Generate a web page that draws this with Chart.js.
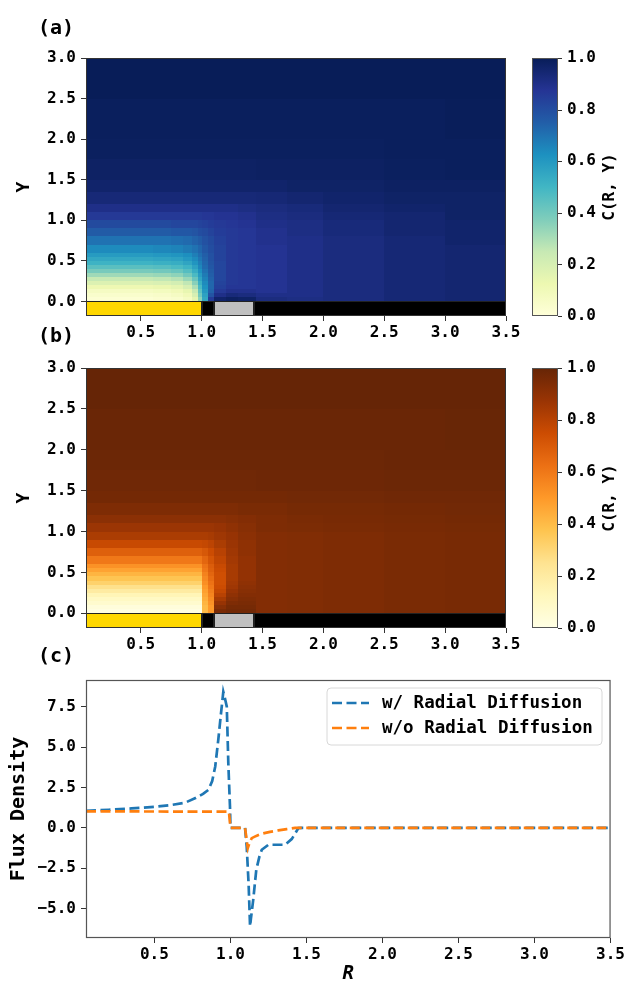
<!DOCTYPE html>
<html>
<head>
<meta charset="utf-8">
<script src="https://cdn.jsdelivr.net/npm/chart.js@4.4.0/dist/chart.umd.min.js"></script>
<style>
  html, body { margin: 0; padding: 0; background: #fff; }
  #wrap { position: relative; width: 627px; height: 984px; }
  #wrap canvas { position: absolute; left: 0; }
</style>
</head>
<body>
<div id="wrap">
  <canvas id="chartA" width="627" height="345" style="top:0px"></canvas>
  <canvas id="chartB" width="627" height="345" style="top:320px"></canvas>
  <canvas id="chartC" width="627" height="344" style="top:640px"></canvas>
</div>
<script>
// grid edges of the concentration maps (R columns, Y rows)
var rEdges = [0.05, 0.35, 0.6, 0.75, 0.85, 0.92, 0.97, 1.0, 1.05, 1.1, 1.2, 1.3, 1.45, 1.7, 2.0, 2.5, 3.0, 3.5];
var yEdges = [0, 0.05, 0.1, 0.15, 0.2, 0.25, 0.3, 0.35, 0.4, 0.45, 0.5, 0.55, 0.6, 0.7, 0.8, 0.9, 1.0, 1.1, 1.2, 1.35, 1.5, 1.75, 2.0, 2.5, 3.0];

// C(R, Y) for panel (a), one row per Y band, bottom row first
var concA = [
  [0.02, 0.02, 0.03, 0.04, 0.07, 0.15, 0.35, 0.55, 0.85, 0.96, 0.98, 0.97, 0.92, 0.91, 0.92, 0.94, 0.95],
  [0.04, 0.04, 0.05, 0.07, 0.10, 0.20, 0.40, 0.57, 0.78, 0.90, 0.93, 0.92, 0.90, 0.90, 0.92, 0.94, 0.95],
  [0.07, 0.07, 0.08, 0.10, 0.14, 0.25, 0.44, 0.60, 0.74, 0.86, 0.89, 0.89, 0.88, 0.90, 0.92, 0.94, 0.95],
  [0.12, 0.12, 0.13, 0.15, 0.20, 0.30, 0.48, 0.62, 0.73, 0.84, 0.87, 0.87, 0.88, 0.90, 0.92, 0.94, 0.95],
  [0.18, 0.18, 0.19, 0.21, 0.26, 0.36, 0.52, 0.64, 0.73, 0.83, 0.86, 0.87, 0.88, 0.90, 0.92, 0.94, 0.95],
  [0.25, 0.25, 0.26, 0.28, 0.33, 0.42, 0.56, 0.66, 0.74, 0.82, 0.86, 0.87, 0.88, 0.90, 0.92, 0.94, 0.95],
  [0.32, 0.32, 0.33, 0.35, 0.40, 0.48, 0.59, 0.68, 0.75, 0.82, 0.86, 0.87, 0.88, 0.90, 0.92, 0.94, 0.95],
  [0.39, 0.39, 0.40, 0.42, 0.46, 0.53, 0.62, 0.70, 0.76, 0.82, 0.86, 0.87, 0.88, 0.90, 0.92, 0.94, 0.95],
  [0.45, 0.45, 0.46, 0.48, 0.51, 0.57, 0.65, 0.72, 0.77, 0.82, 0.86, 0.87, 0.88, 0.90, 0.92, 0.94, 0.95],
  [0.51, 0.51, 0.52, 0.53, 0.56, 0.61, 0.67, 0.73, 0.78, 0.82, 0.86, 0.87, 0.88, 0.90, 0.92, 0.94, 0.95],
  [0.55, 0.55, 0.56, 0.57, 0.60, 0.64, 0.69, 0.74, 0.79, 0.83, 0.86, 0.87, 0.88, 0.90, 0.92, 0.94, 0.95],
  [0.59, 0.59, 0.60, 0.61, 0.63, 0.67, 0.71, 0.75, 0.79, 0.83, 0.86, 0.87, 0.88, 0.90, 0.92, 0.94, 0.95],
  [0.64, 0.64, 0.65, 0.66, 0.68, 0.70, 0.73, 0.77, 0.80, 0.83, 0.86, 0.87, 0.88, 0.90, 0.92, 0.94, 0.95],
  [0.70, 0.70, 0.70, 0.71, 0.72, 0.74, 0.76, 0.79, 0.81, 0.84, 0.86, 0.87, 0.89, 0.90, 0.92, 0.94, 0.96],
  [0.76, 0.76, 0.76, 0.77, 0.77, 0.78, 0.80, 0.81, 0.83, 0.85, 0.86, 0.87, 0.89, 0.91, 0.93, 0.95, 0.96],
  [0.81, 0.81, 0.81, 0.82, 0.82, 0.82, 0.83, 0.84, 0.85, 0.86, 0.87, 0.88, 0.90, 0.91, 0.93, 0.95, 0.96],
  [0.86, 0.86, 0.86, 0.86, 0.86, 0.86, 0.86, 0.87, 0.87, 0.88, 0.88, 0.89, 0.91, 0.92, 0.94, 0.95, 0.97],
  [0.90, 0.90, 0.90, 0.90, 0.90, 0.90, 0.90, 0.90, 0.90, 0.90, 0.90, 0.91, 0.92, 0.93, 0.95, 0.96, 0.97],
  [0.935, 0.935, 0.935, 0.935, 0.935, 0.935, 0.935, 0.935, 0.935, 0.935, 0.935, 0.935, 0.94, 0.95, 0.96, 0.97, 0.97],
  [0.96, 0.96, 0.96, 0.96, 0.96, 0.96, 0.96, 0.96, 0.96, 0.96, 0.96, 0.96, 0.96, 0.97, 0.97, 0.98, 0.98],
  [0.975, 0.975, 0.975, 0.975, 0.975, 0.975, 0.975, 0.975, 0.975, 0.975, 0.975, 0.975, 0.98, 0.98, 0.98, 0.985, 0.99],
  [0.985, 0.985, 0.985, 0.985, 0.985, 0.985, 0.985, 0.985, 0.985, 0.985, 0.985, 0.985, 0.985, 0.985, 0.985, 0.99, 0.99],
  [0.99, 0.99, 0.99, 0.99, 0.99, 0.99, 0.99, 0.99, 0.99, 0.99, 0.99, 0.99, 0.99, 0.99, 0.99, 0.99, 0.995],
  [1.0, 1.0, 1.0, 1.0, 1.0, 1.0, 1.0, 1.0, 1.0, 1.0, 1.0, 1.0, 1.0, 1.0, 1.0, 1.0, 1.0]
];

// C(R, Y) for panel (b)
var concB = [
  [0.01, 0.01, 0.01, 0.01, 0.01, 0.01, 0.01, 0.40, 0.50, 0.95, 0.97, 0.97, 0.93, 0.935, 0.94, 0.95, 0.955],
  [0.03, 0.03, 0.03, 0.03, 0.03, 0.03, 0.03, 0.40, 0.50, 0.92, 0.96, 0.96, 0.93, 0.935, 0.94, 0.95, 0.955],
  [0.07, 0.07, 0.07, 0.07, 0.07, 0.07, 0.07, 0.42, 0.52, 0.88, 0.94, 0.95, 0.93, 0.935, 0.94, 0.95, 0.955],
  [0.10, 0.10, 0.10, 0.10, 0.10, 0.10, 0.10, 0.44, 0.54, 0.84, 0.92, 0.94, 0.93, 0.935, 0.94, 0.95, 0.955],
  [0.14, 0.14, 0.14, 0.14, 0.14, 0.14, 0.14, 0.46, 0.56, 0.80, 0.90, 0.93, 0.93, 0.935, 0.94, 0.95, 0.955],
  [0.20, 0.20, 0.20, 0.20, 0.20, 0.20, 0.20, 0.48, 0.58, 0.77, 0.88, 0.92, 0.93, 0.935, 0.94, 0.95, 0.955],
  [0.26, 0.26, 0.26, 0.26, 0.26, 0.26, 0.26, 0.50, 0.60, 0.75, 0.86, 0.91, 0.93, 0.935, 0.94, 0.95, 0.955],
  [0.32, 0.32, 0.32, 0.32, 0.32, 0.32, 0.32, 0.53, 0.62, 0.74, 0.85, 0.90, 0.93, 0.935, 0.94, 0.95, 0.955],
  [0.37, 0.37, 0.37, 0.37, 0.37, 0.37, 0.37, 0.55, 0.64, 0.74, 0.84, 0.89, 0.93, 0.935, 0.94, 0.95, 0.955],
  [0.42, 0.42, 0.42, 0.42, 0.42, 0.42, 0.42, 0.57, 0.66, 0.74, 0.84, 0.89, 0.93, 0.935, 0.94, 0.95, 0.955],
  [0.47, 0.47, 0.47, 0.47, 0.47, 0.47, 0.47, 0.60, 0.68, 0.75, 0.84, 0.89, 0.93, 0.935, 0.94, 0.95, 0.955],
  [0.52, 0.52, 0.52, 0.52, 0.52, 0.52, 0.52, 0.62, 0.69, 0.76, 0.84, 0.89, 0.93, 0.935, 0.94, 0.95, 0.955],
  [0.60, 0.60, 0.60, 0.60, 0.60, 0.60, 0.60, 0.66, 0.72, 0.78, 0.85, 0.89, 0.93, 0.935, 0.94, 0.95, 0.955],
  [0.68, 0.68, 0.68, 0.68, 0.68, 0.68, 0.68, 0.71, 0.75, 0.80, 0.86, 0.90, 0.93, 0.935, 0.94, 0.95, 0.955],
  [0.76, 0.76, 0.76, 0.76, 0.76, 0.76, 0.76, 0.77, 0.79, 0.83, 0.87, 0.90, 0.93, 0.935, 0.94, 0.95, 0.955],
  [0.83, 0.83, 0.83, 0.83, 0.83, 0.83, 0.83, 0.83, 0.84, 0.86, 0.88, 0.91, 0.93, 0.935, 0.94, 0.95, 0.955],
  [0.87, 0.87, 0.87, 0.87, 0.87, 0.87, 0.87, 0.87, 0.87, 0.88, 0.90, 0.92, 0.94, 0.945, 0.95, 0.955, 0.96],
  [0.91, 0.91, 0.91, 0.91, 0.91, 0.91, 0.91, 0.91, 0.91, 0.91, 0.92, 0.93, 0.94, 0.95, 0.955, 0.96, 0.965],
  [0.94, 0.94, 0.94, 0.94, 0.94, 0.94, 0.94, 0.94, 0.94, 0.94, 0.94, 0.95, 0.95, 0.96, 0.96, 0.965, 0.97],
  [0.965, 0.965, 0.965, 0.965, 0.965, 0.965, 0.965, 0.965, 0.965, 0.965, 0.965, 0.965, 0.965, 0.97, 0.97, 0.975, 0.975],
  [0.975, 0.975, 0.975, 0.975, 0.975, 0.975, 0.975, 0.975, 0.975, 0.975, 0.975, 0.975, 0.98, 0.98, 0.98, 0.985, 0.985],
  [0.985, 0.985, 0.985, 0.985, 0.985, 0.985, 0.985, 0.985, 0.985, 0.985, 0.985, 0.985, 0.985, 0.985, 0.985, 0.99, 0.99],
  [0.99, 0.99, 0.99, 0.99, 0.99, 0.99, 0.99, 0.99, 0.99, 0.99, 0.99, 0.99, 0.99, 0.99, 0.99, 0.99, 0.995],
  [1.0, 1.0, 1.0, 1.0, 1.0, 1.0, 1.0, 1.0, 1.0, 1.0, 1.0, 1.0, 1.0, 1.0, 1.0, 1.0, 1.0]
];

// electrode strip under the maps
var stripStart = [0.05, 1.0, 1.1, 1.43];
var stripEnd = [1.0, 1.1, 1.43, 3.5];
var stripColor = ['#ffd700', '#000000', '#c0c0c0', '#000000'];

// flux density curves, panel (c)
var rWith = [0.05, 0.2, 0.35, 0.5, 0.6, 0.7, 0.77, 0.82, 0.855, 0.88, 0.9, 0.92, 0.938, 0.953, 0.962, 0.976, 0.986, 0.997, 1.0, 1.05, 1.096, 1.107, 1.12, 1.129, 1.135, 1.15, 1.17, 1.19, 1.206, 1.25, 1.3, 1.36, 1.403, 1.447, 1.47, 2.0, 2.5, 3.0, 3.5];
var fluxWith = [1.05, 1.12, 1.2, 1.3, 1.4, 1.55, 1.84, 2.1, 2.35, 2.9, 3.8, 5.45, 7.1, 8.43, 8.1, 7.5, 4.0, 1.3, 0, 0, 0, -1.16, -3.6, -6.1, -5.6, -4.45, -2.6, -1.8, -1.36, -1.05, -1.05, -1.05, -0.7, -0.02, 0, 0, 0, 0, 0];
var rWithout = [0.05, 0.5, 0.99, 1.0, 1.05, 1.096, 1.114, 1.125, 1.14, 1.17, 1.206, 1.26, 1.315, 1.37, 1.425, 1.5, 2.0, 2.5, 3.0, 3.5];
var fluxWithout = [1.02, 1.01, 1.0, 0, 0, 0, -1.26, -0.95, -0.64, -0.5, -0.37, -0.25, -0.16, -0.08, 0, 0, 0, 0, 0, 0];

// tick labels
var rTicks = [0.5, 1.0, 1.5, 2.0, 2.5, 3.0, 3.5];
var yTicks = [0.0, 0.5, 1.0, 1.5, 2.0, 2.5, 3.0];
var cbTicks = [0.0, 0.2, 0.4, 0.6, 0.8, 1.0];
var fluxTicks = [-5.0, -2.5, 0.0, 2.5, 5.0, 7.5];

// matplotlib YlGnBu / YlOrBr
var ylgnbu = ['#ffffd9', '#edf8b1', '#c7e9b4', '#7fcdbb', '#41b6c4', '#1d91c0', '#225ea8', '#253494', '#081d58'];
var ylorbr = ['#ffffe5', '#fff7bc', '#fee391', '#fec44f', '#fe9929', '#ec7014', '#cc4c02', '#993404', '#662506'];

var FONT = 'DejaVu Sans Mono';
Chart.defaults.font.family = FONT;
Chart.defaults.font.size = 16;
Chart.defaults.font.weight = 'bold';
Chart.defaults.color = '#000';

function hexRgb(h) {
    return [parseInt(h.substr(1, 2), 16), parseInt(h.substr(3, 2), 16), parseInt(h.substr(5, 2), 16)];
}

function cmap(stops, v) {
    v = Math.max(0, Math.min(1, v));
    var p = v * (stops.length - 1);
    var k = Math.min(Math.floor(p), stops.length - 2);
    var f = p - k;
    var a = hexRgb(stops[k]), b = hexRgb(stops[k + 1]);
    return 'rgb(' + [0, 1, 2].map(function (i) { return Math.round(a[i] + (b[i] - a[i]) * f); }).join(',') + ')';
}

function fmt(v) {
    return Number(v).toFixed(1).replace('-', '\u2212');
}

function fixTicks(list) {
    return function (scale) { scale.ticks = list.map(function (v) { return { value: v }; }); };
}

function drawPanelLabel(ctx, text, x, y) {
    ctx.save();
    ctx.font = 'bold 20px ' + FONT;
    ctx.fillStyle = '#000';
    ctx.textAlign = 'center';
    ctx.textBaseline = 'middle';
    ctx.fillText(text, x, y);
    ctx.restore();
}

// draws the map cells, the electrode strip and the colorbar
var heatmapPlugin = {
    id: 'heatmap',
    beforeDatasetsDraw: function (chart) {
        var opts = chart.options.plugins.heatmap;
        var ctx = chart.ctx, xs = chart.scales.x, ys = chart.scales.y, cb = chart.scales.cb;
        var area = chart.chartArea;
        ctx.save();
        ctx.beginPath();
        ctx.rect(area.left, area.top, area.right - area.left, area.bottom - area.top);
        ctx.clip();
        for (var i = 0; i < opts.conc.length; i++) {
            var y0 = Math.round(ys.getPixelForValue(yEdges[i]));
            var y1 = Math.round(ys.getPixelForValue(yEdges[i + 1]));
            for (var j = 0; j < opts.conc[i].length; j++) {
                var x0 = Math.round(xs.getPixelForValue(rEdges[j]));
                var x1 = Math.round(xs.getPixelForValue(rEdges[j + 1]));
                ctx.fillStyle = cmap(opts.stops, opts.conc[i][j]);
                ctx.fillRect(x0, y1, x1 - x0, y0 - y1);
            }
        }
        var sTop = Math.round(ys.getPixelForValue(0));
        var sBot = Math.round(ys.getPixelForValue(ys.min));
        for (var s = 0; s < stripStart.length; s++) {
            var a = Math.round(xs.getPixelForValue(stripStart[s]));
            var b = Math.round(xs.getPixelForValue(stripEnd[s]));
            ctx.fillStyle = stripColor[s];
            ctx.fillRect(a, sTop, b - a, sBot - sTop);
            ctx.strokeStyle = '#222';
            ctx.lineWidth = 1;
            ctx.strokeRect(a + 0.5, sTop + 0.5, b - a - 1, sBot - sTop - 1);
        }
        ctx.restore();

        ctx.save();
        ctx.strokeStyle = '#333';
        ctx.lineWidth = 1;
        ctx.strokeRect(area.left + 0.5, area.top + 0.5, area.right - area.left - 1, area.bottom - area.top - 1);

        // colorbar
        var cbLeft = area.right + 26, cbRight = area.right + 52;
        var grad = ctx.createLinearGradient(0, cb.getPixelForValue(0), 0, cb.getPixelForValue(1));
        opts.stops.forEach(function (c, k) { grad.addColorStop(k / (opts.stops.length - 1), c); });
        ctx.fillStyle = grad;
        ctx.fillRect(cbLeft, cb.top, cbRight - cbLeft, cb.bottom - cb.top);
        ctx.strokeStyle = '#555';
        ctx.strokeRect(cbLeft + 0.5, cb.top + 0.5, cbRight - cbLeft - 1, cb.bottom - cb.top - 1);
        ctx.strokeStyle = '#333';
        cbTicks.forEach(function (v) {
            var py = Math.round(cb.getPixelForValue(v)) + 0.5;
            ctx.beginPath();
            ctx.moveTo(cbRight, py);
            ctx.lineTo(cbRight + 4, py);
            ctx.stroke();
        });
        ctx.restore();
    },
    afterDraw: function (chart) {
        var opts = chart.options.plugins.heatmap;
        var ctx = chart.ctx, area = chart.chartArea;
        drawPanelLabel(ctx, opts.panel, 56, opts.panelY);
        ctx.save();
        ctx.translate(610, (area.top + area.bottom) / 2);
        ctx.rotate(-Math.PI / 2);
        ctx.font = 'bold 16px ' + FONT;
        ctx.fillStyle = '#000';
        ctx.textAlign = 'center';
        ctx.textBaseline = 'middle';
        ctx.fillText('C(R, Y)', 0, 0);
        ctx.restore();
    }
};

function heatmapConfig(conc, stops, panel, panelY, padTop, padBottom, xHeight) {
    return {
        type: 'scatter',
        data: { datasets: [] },
        options: {
            responsive: false,
            animation: false,
            layout: { padding: { top: padTop, bottom: padBottom, left: 0, right: 0 } },
            plugins: {
                legend: { display: false },
                tooltip: { enabled: false },
                heatmap: { conc: conc, stops: stops, panel: panel, panelY: panelY }
            },
            scales: {
                x: {
                    type: 'linear', min: rEdges[0], max: rEdges[rEdges.length - 1],
                    afterBuildTicks: fixTicks(rTicks),
                    afterFit: function (s) { s.height = xHeight; },
                    ticks: { callback: fmt, padding: 2, maxRotation: 0, autoSkip: false },
                    grid: { drawOnChartArea: false, drawTicks: true, tickLength: 5, color: '#333' },
                    border: { display: false }
                },
                y: {
                    type: 'linear', min: -0.18, max: 3.0,
                    afterBuildTicks: fixTicks(yTicks),
                    afterFit: function (s) { s.width = 86; },
                    ticks: { callback: fmt, padding: 5, autoSkip: false },
                    grid: { drawOnChartArea: false, drawTicks: true, tickLength: 5, color: '#333' },
                    border: { display: false },
                    title: { display: true, text: 'Y', font: { size: 18, weight: 'bold' }, padding: { top: 14, bottom: 0 } }
                },
                cb: {
                    // labels sit right of the colorbar: long invisible tick marks push them out
                    type: 'linear', position: 'right', min: 0, max: 1,
                    afterBuildTicks: fixTicks(cbTicks),
                    afterFit: function (s) { s.width = 121; },
                    ticks: { callback: fmt, padding: 5, autoSkip: false },
                    grid: { display: true, drawOnChartArea: false, drawTicks: true, tickLength: 56, color: 'rgba(0,0,0,0)' },
                    border: { display: false }
                }
            }
        },
        plugins: [heatmapPlugin]
    };
}

new Chart(document.getElementById('chartA'), heatmapConfig(concA, ylgnbu, '(a)', 29, 58, 0, 29));
new Chart(document.getElementById('chartB'), heatmapConfig(concB, ylorbr, '(b)', 17, 48, 7, 30));

// frame + legend for the flux panel
var fluxPlugin = {
    id: 'fluxFrame',
    afterDraw: function (chart) {
        var ctx = chart.ctx, area = chart.chartArea;
        ctx.save();
        ctx.strokeStyle = '#555';
        ctx.lineWidth = 1.2;
        ctx.strokeRect(area.left + 0.5, area.top + 0.5, area.right - area.left - 1, area.bottom - area.top - 1);

        // legend box
        var bx = 327, by = 48, bw = 275, bh = 57, r = 4;
        ctx.beginPath();
        ctx.moveTo(bx + r, by);
        ctx.arcTo(bx + bw, by, bx + bw, by + bh, r);
        ctx.arcTo(bx + bw, by + bh, bx, by + bh, r);
        ctx.arcTo(bx, by + bh, bx, by, r);
        ctx.arcTo(bx, by, bx + bw, by, r);
        ctx.closePath();
        ctx.fillStyle = 'rgba(255,255,255,0.8)';
        ctx.fill();
        ctx.strokeStyle = '#d8d8d8';
        ctx.lineWidth = 1;
        ctx.stroke();

        chart.data.datasets.forEach(function (ds, k) {
            var ly = 63 + k * 25;
            ctx.setLineDash(ds.borderDash);
            ctx.strokeStyle = ds.borderColor;
            ctx.lineWidth = ds.borderWidth;
            ctx.beginPath();
            ctx.moveTo(332, ly);
            ctx.lineTo(369, ly);
            ctx.stroke();
            ctx.setLineDash([]);
            ctx.font = 'bold 17.5px ' + FONT;
            ctx.fillStyle = '#000';
            ctx.textAlign = 'left';
            ctx.textBaseline = 'middle';
            ctx.fillText(ds.label, 382, ly);
        });
        ctx.restore();
        drawPanelLabel(ctx, '(c)', 56, 17);
    }
};

new Chart(document.getElementById('chartC'), {
    type: 'line',
    data: {
        datasets: [{
            label: 'w/ Radial Diffusion',
            data: rWith.map(function (r, i) { return { x: r, y: fluxWith[i] }; }),
            borderColor: '#1f77b4',
            borderWidth: 2.7,
            borderDash: [10, 4.5],
            pointRadius: 0,
            tension: 0,
            fill: false,
            order: 1
        }, {
            label: 'w/o Radial Diffusion',
            data: rWithout.map(function (r, i) { return { x: r, y: fluxWithout[i] }; }),
            borderColor: '#ff7f0e',
            borderWidth: 2.7,
            borderDash: [10, 4.5],
            pointRadius: 0,
            tension: 0,
            fill: false,
            order: 0
        }]
    },
    options: {
        responsive: false,
        animation: false,
        layout: { padding: { top: 40, bottom: 0, left: 0, right: 16 } },
        plugins: { legend: { display: false }, tooltip: { enabled: false } },
        scales: {
            x: {
                type: 'linear', min: 0.05, max: 3.5,
                afterBuildTicks: fixTicks(rTicks),
                afterFit: function (s) { s.height = 46; },
                ticks: { callback: fmt, padding: 2, maxRotation: 0, autoSkip: false },
                grid: { drawOnChartArea: false, drawTicks: true, tickLength: 5, color: '#333' },
                border: { display: false },
                title: { display: true, text: 'R', font: { size: 19, weight: 'bold', style: 'italic', lineHeight: 1 }, padding: { top: 0, bottom: 0 } }
            },
            y: {
                type: 'linear', min: -6.83, max: 9.16,
                afterBuildTicks: fixTicks(fluxTicks),
                afterFit: function (s) { s.width = 86; },
                ticks: { callback: fmt, padding: 5, autoSkip: false },
                grid: { drawOnChartArea: false, drawTicks: true, tickLength: 5, color: '#333' },
                border: { display: false },
                title: { display: true, text: 'Flux Density', font: { size: 20, weight: 'bold' }, padding: { top: 7, bottom: 0 } }
            }
        }
    },
    plugins: [fluxPlugin]
});
</script>
</body>
</html>
